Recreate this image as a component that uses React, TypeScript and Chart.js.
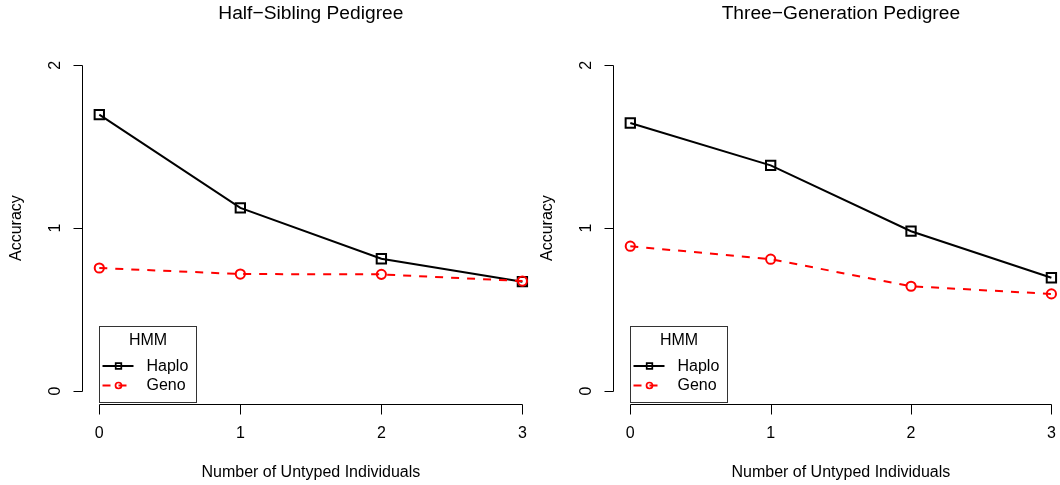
import React, { useEffect, useRef } from "react";
import { Chart, registerables } from "chart.js";

Chart.register(...registerables);

// ---- data ----
const untyped = [0, 1, 2, 3];
const xTicks = [0, 1, 2, 3];
const yTicks = [0, 1, 2];
const halfSibHaplo = [1.697, 1.124, 0.812, 0.671];
const halfSibGeno = [0.755, 0.718, 0.716, 0.675];
const threeGenHaplo = [1.645, 1.385, 0.981, 0.695];
const threeGenGeno = [0.889, 0.809, 0.643, 0.596];
const seriesNames = ["Haplo", "Geno"];
const legendTitle = "HMM";
const xTitle = "Number of Untyped Individuals";
const yTitle = "Accuracy";
const panelTitles = ["Half\u2212Sibling Pedigree", "Three\u2212Generation Pedigree"];

const FONT = '"Liberation Sans", Arial, Helvetica, sans-serif';
const RED = "#ff0000";

const rPlot = {
  id: "rPlot",
  afterDraw(chart: any, _args: any, opts: any) {
    const ctx: CanvasRenderingContext2D = chart.ctx;
    const xs = chart.scales.x;
    const ys = chart.scales.y;
    ctx.save();
    ctx.strokeStyle = "#000";
    ctx.fillStyle = "#000";
    ctx.lineWidth = 1;
    ctx.setLineDash([]);

    const axX = Math.round(xs.getPixelForValue(-0.12)) + 0.5;
    const axY = Math.round(ys.getPixelForValue(-0.08)) + 0.5;

    // y axis
    const yTop = Math.round(ys.getPixelForValue(yTicks[yTicks.length - 1])) + 0.5;
    const yBot = Math.round(ys.getPixelForValue(yTicks[0])) + 0.5;
    ctx.beginPath();
    ctx.moveTo(axX, yTop);
    ctx.lineTo(axX, yBot);
    yTicks.forEach((t) => {
      const py = Math.round(ys.getPixelForValue(t)) + 0.5;
      ctx.moveTo(axX, py);
      ctx.lineTo(axX - 9, py);
    });
    ctx.stroke();
    ctx.font = `16px ${FONT}`;
    ctx.textAlign = "center";
    ctx.textBaseline = "middle";
    yTicks.forEach((t) => {
      const py = ys.getPixelForValue(t);
      ctx.save();
      ctx.translate(axX - 27, py);
      ctx.rotate(-Math.PI / 2);
      ctx.fillText(String(t), 0, 0);
      ctx.restore();
    });

    // x axis
    const xL = Math.round(xs.getPixelForValue(xTicks[0])) + 0.5;
    const xR = Math.round(xs.getPixelForValue(xTicks[xTicks.length - 1])) + 0.5;
    ctx.beginPath();
    ctx.moveTo(xL, axY);
    ctx.lineTo(xR, axY);
    xTicks.forEach((t) => {
      const px = Math.round(xs.getPixelForValue(t)) + 0.5;
      ctx.moveTo(px, axY);
      ctx.lineTo(px, axY + 10);
    });
    ctx.stroke();
    xTicks.forEach((t) => {
      ctx.fillText(String(t), xs.getPixelForValue(t), axY + 29);
    });

    // axis titles
    const cx = xs.getPixelForValue(1.5);
    const cy = ys.getPixelForValue(1);
    ctx.fillText(xTitle, cx, axY + 68);
    ctx.save();
    ctx.translate(axX - 66, cy);
    ctx.rotate(-Math.PI / 2);
    ctx.fillText(yTitle, 0, 0);
    ctx.restore();

    // main title
    ctx.font = `19.2px ${FONT}`;
    ctx.fillText(opts.title, cx, 14);

    // legend
    const bl = Math.round(xs.getPixelForValue(0)) + 0.5;
    const bb = axY - 2;
    const bw = 97;
    const bh = 76;
    const bt = bb - bh;
    ctx.strokeStyle = "#333";
    ctx.lineWidth = 1;
    ctx.strokeRect(bl, bt, bw, bh);
    ctx.fillStyle = "#000";
    ctx.font = `16px ${FONT}`;
    ctx.textAlign = "center";
    ctx.fillText(legendTitle, bl + 48.5, bt + 14);
    ctx.textAlign = "left";
    const rows = [
      { name: seriesNames[0], color: "#000", dash: [] as number[], shape: "rect" },
      { name: seriesNames[1], color: RED, dash: [8, 8], shape: "circle" },
    ];
    rows.forEach((r, i) => {
      const ry = bt + 39.5 + i * 19.5;
      ctx.strokeStyle = r.color;
      ctx.fillStyle = r.color;
      ctx.lineWidth = 2;
      ctx.setLineDash(r.dash);
      ctx.beginPath();
      ctx.moveTo(bl + 3, ry);
      ctx.lineTo(bl + 34, ry);
      ctx.stroke();
      ctx.setLineDash([]);
      const mx = bl + 19;
      ctx.lineWidth = 1.7;
      ctx.beginPath();
      if (r.shape === "rect") {
        ctx.rect(mx - 2.8, ry - 2.8, 5.6, 5.6);
      } else {
        ctx.arc(mx, ry, 3, 0, Math.PI * 2);
      }
      ctx.stroke();
      ctx.fillStyle = "#000";
      ctx.fillText(r.name, bl + 47, ry + 0.5);
    });
    ctx.restore();
  },
};

function Panel({
  width,
  left,
  haplo,
  geno,
  title,
  padRight,
}: {
  width: number;
  left: number;
  haplo: number[];
  geno: number[];
  title: string;
  padRight: number;
}) {
  const ref = useRef<HTMLCanvasElement | null>(null);
  useEffect(() => {
    if (!ref.current) return;
    const chart = new Chart(ref.current, {
      type: "line",
      data: {
        datasets: [
          {
            label: seriesNames[0],
            data: untyped.map((x, i) => ({ x, y: haplo[i] })),
            borderColor: "#000",
            borderWidth: 2,
            pointStyle: "rect",
            pointRadius: 6.6,
            pointBorderWidth: 2,
            pointBorderColor: "#000",
            pointBackgroundColor: "rgba(0,0,0,0)",
            tension: 0,
            clip: false as any,
            order: 1,
          },
          {
            label: seriesNames[1],
            data: untyped.map((x, i) => ({ x, y: geno[i] })),
            borderColor: RED,
            borderWidth: 2,
            borderDash: [8, 8],
            pointStyle: "circle",
            pointRadius: 4.6,
            pointBorderWidth: 2,
            pointBorderColor: RED,
            pointBackgroundColor: "rgba(0,0,0,0)",
            tension: 0,
            clip: false as any,
            order: 0,
          },
        ],
      },
      options: {
        animation: false,
        responsive: false,
        devicePixelRatio: 1,
        layout: { padding: { left: 99.3, right: padRight, top: 65.2, bottom: 94 } },
        scales: {
          x: { type: "linear", min: 0, max: 3, display: false },
          y: { type: "linear", min: 0, max: 2, display: false },
        },
        plugins: {
          legend: { display: false },
          tooltip: { enabled: false },
          title: { display: false },
          rPlot: { title },
        } as any,
        events: [],
      },
      plugins: [rPlot],
    });
    return () => chart.destroy();
  }, []);
  return (
    <canvas
      ref={ref}
      width={width}
      height={485}
      style={{ position: "absolute", left, top: 0, width, height: 485 }}
    />
  );
}

export default function App() {
  return (
    <div
      style={{
        position: "absolute",
        left: 0,
        top: 0,
        width: 1060,
        height: 485,
        background: "#fff",
        overflow: "hidden",
      }}
    >
      <Panel width={531} left={0} haplo={halfSibHaplo} geno={halfSibGeno} title={panelTitles[0]} padRight={8.5} />
      <Panel width={529} left={531} haplo={threeGenHaplo} geno={threeGenGeno} title={panelTitles[1]} padRight={6.5} />
    </div>
  );
}
